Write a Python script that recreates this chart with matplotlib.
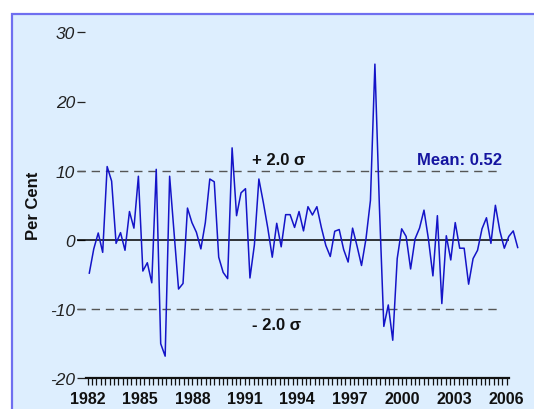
import numpy as np
import matplotlib
matplotlib.use("Agg")
import matplotlib.pyplot as plt
from matplotlib.patches import Rectangle

plt.rcParams['font.family'] = ['Liberation Sans', 'DejaVu Sans']

# Quarterly percentage change, 1982Q1 onwards
values = [
    -4.8, -1.3, 1.0, -1.8, 10.6, 8.5, -0.5, 1.05, -1.5, 4.1, 1.7, 9.2,
    -4.5, -3.3, -6.2, 10.2, -15.0, -16.8, 9.2, 1.0, -7.1, -6.3, 4.6, 2.5,
    1.1, -1.3, 2.5, 8.8, 8.4, -2.5, -4.7, -5.6, 13.3, 3.5, 6.8, 7.4,
    -5.5, -0.7, 8.8, 5.4, 1.7, -2.5, 2.4, -1.0, 3.65, 3.65, 1.8, 4.1,
    1.3, 4.8, 3.6, 4.8, 1.8, -0.8, -2.4, 1.25, 1.5, -1.4, -3.2, 1.7,
    -0.9, -3.7, 0.15, 5.7, 25.4, 5.0, -12.5, -9.4, -14.5, -2.7, 1.6, 0.5,
    -4.2, 0.15, 1.7, 4.3, 0.1, -5.2, 3.5, -9.2, 0.6, -2.9, 2.5, -1.2,
    -1.2, -6.4, -2.7, -1.5, 1.6, 3.2, -0.5, 5.0, 1.3, -1.2, 0.5, 1.3, -1.1,
]
year_labels = [1982, 1985, 1988, 1991, 1994, 1997, 2000, 2003, 2006]
y_ticks = [-20, -10, 0, 10, 20, 30]
mean_value = 0.52
sigma_band = 10.0

W, H = 534, 410
fig = plt.figure(figsize=(W / 100, H / 100), dpi=100)
fig.patch.set_facecolor('white')

def px(x, y):
    return x / W, 1 - y / H

# light blue panel with blue frame on left and top
x0, y0 = px(12, 15)
fig.patches.append(Rectangle((x0, -0.2), 1.5, y0 + 0.2, transform=fig.transFigure,
                             facecolor='#DDEEFE', edgecolor='#6F6FF0', linewidth=1.6,
                             zorder=-10))

left, right, top, bottom = 77, 534, 33.3, 379.3
ax = fig.add_axes([left / W, (H - bottom) / H, (right - left) / W, (bottom - top) / H])
ax.set_zorder(1)
ax.set_facecolor('none')
ax.set_ylim(-20, 30)

# year scale for the bottom axis
yr_per_px = 1 / 17.46
ax.set_xlim(1982 - (87.7 - left) * yr_per_px, 1982 + (right - 87.7) * yr_per_px)
ax.set_xticks(year_labels)
ax.set_xticklabels([str(y) for y in year_labels], fontsize=11.5, fontweight='bold', color='#111111')
ax.set_xticks(np.arange(1982, 2006.01, 0.25), minor=True)
ax.tick_params(axis='x', which='both', direction='out', length=5, width=0.9, color='#111111', pad=4)

ax.set_yticks(y_ticks)
ax.set_yticklabels([str(v) for v in y_ticks], fontsize=12.5, fontstyle='italic', color='#222222')
ax.tick_params(axis='y', direction='in', length=6, width=0.9, color='#222222', pad=1.5)

for s in ['left', 'top', 'right']:
    ax.spines[s].set_visible(False)
ax.spines['bottom'].set_bounds(1982 - 1.5 * yr_per_px, 2006 + 2.3 * yr_per_px)
ax.spines['bottom'].set_linewidth(1.6)
ax.spines['bottom'].set_color('#111111')

x_start = ax.get_xlim()[0]
ax.hlines(0, x_start, 2006 + 2.3 * yr_per_px, color='black', linewidth=1.1, zorder=2)
for lvl in (sigma_band, -sigma_band):
    ax.hlines(lvl, x_start, 2006 - 4.5 * yr_per_px, color='#555555', linewidth=1.0,
              linestyles=(0, (6, 4.2)), zorder=2)

# data series on its own index scale
ax2 = ax.twiny()
ax2.set_facecolor('none')
step = 4.4625
ax2.set_xlim(-(89.3 - left) / step, (right - 89.3) / step)
ax2.set_ylim(-20, 30)
ax2.axis('off')
ax2.plot(np.arange(len(values)), values, color='#1414C8', linewidth=1.1, zorder=3, clip_on=False)

fig.text(*px(251.7, 161), '+ 2.0 σ', fontsize=12, fontweight='bold', color='#111111',
         ha='left', va='center')
fig.text(*px(251.7, 325.7), '- 2.0 σ', fontsize=12, fontweight='bold', color='#111111',
         ha='left', va='center')
fig.text(*px(501.7, 161), f'Mean: {mean_value:.2f}', fontsize=12, fontweight='bold',
         color='#1515A0', ha='right', va='center')
fig.text(*px(33, 206), 'Per Cent', fontsize=12, fontweight='bold', color='#111111',
         rotation=90, ha='center', va='center')

fig.savefig('out.png', dpi=100)
